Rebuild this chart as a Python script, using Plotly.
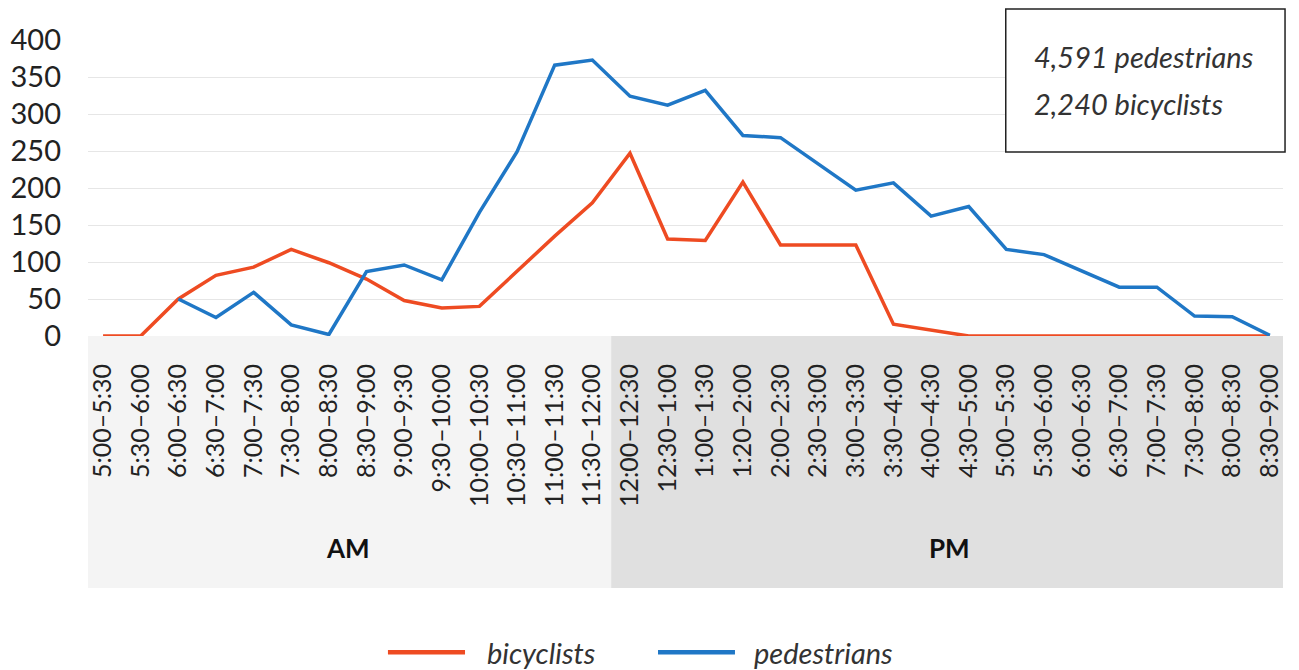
import plotly.graph_objects as go

categories = ["5:00–5:30", "5:30–6:00", "6:00–6:30", "6:30–7:00", "7:00–7:30", "7:30–8:00",
              "8:00–8:30", "8:30–9:00", "9:00–9:30", "9:30–10:00", "10:00–10:30", "10:30–11:00",
              "11:00–11:30", "11:30–12:00", "12:00–12:30", "12:30–1:00", "1:00–1:30", "1:20–2:00",
              "2:00–2:30", "2:30–3:00", "3:00–3:30", "3:30–4:00", "4:00–4:30", "4:30–5:00",
              "5:00–5:30", "5:30–6:00", "6:00–6:30", "6:30–7:00", "7:00–7:30", "7:30–8:00",
              "8:00–8:30", "8:30–9:00"]

bicyclists = [0, 0, 50, 82, 93, 117, 99, 77, 48, 38, 40, 88, 135, 180,
              247, 131, 129, 208, 123, 123, 123, 16, 8, 0, 0, 0, 0, 0, 0, 0, 0, 0]

pedestrians = [None, None, 50, 25, 59, 15, 2, 87, 96, 76, 167, 249, 366, 373,
               324, 312, 332, 271, 268, 233, 197, 207, 162, 175, 117, 110, 88, 66, 66, 27, 26, 1]

y_ticks = [0, 50, 100, 150, 200, 250, 300, 350, 400]
period_labels = ["AM", "PM"]
totals_text = ["4,591 pedestrians", "2,240 bicyclists"]
series_names = ["bicyclists", "pedestrians"]

RED = "#EE4B22"
BLUE = "#1F77C6"
x_idx = list(range(len(categories)))

fig = go.Figure()
fig.add_trace(go.Scatter(x=x_idx, y=bicyclists, mode="lines", name=series_names[0],
                         line=dict(color=RED, width=3.5), cliponaxis=False, showlegend=False))
fig.add_trace(go.Scatter(x=x_idx, y=pedestrians, mode="lines", name=series_names[1],
                         line=dict(color=BLUE, width=3.5), cliponaxis=False, showlegend=False))

# AM / PM bands under the axis
fig.add_shape(type="rect", xref="x", yref="paper", x0=-0.4, x1=13.5, y0=0, y1=-0.851,
              fillcolor="#F4F4F4", line=dict(width=0), layer="below")
fig.add_shape(type="rect", xref="x", yref="paper", x0=13.5, x1=31.35, y0=0, y1=-0.851,
              fillcolor="#E0E0E0", line=dict(width=0), layer="below")
fig.add_annotation(x=6.5, y=-0.716, xref="x", yref="paper", yanchor="middle",
                   text="<b>" + period_labels[0] + "</b>",
                   showarrow=False, font=dict(family="Lato", size=26, color="#111"))
fig.add_annotation(x=22.5, y=-0.716, xref="x", yref="paper", yanchor="middle",
                   text="<b>" + period_labels[1] + "</b>",
                   showarrow=False, font=dict(family="Lato", size=26, color="#111"))

# totals box
fig.add_shape(type="rect", xref="paper", yref="paper", x0=0.768, x1=1.0017, y0=0.6216, y1=1.1047,
              line=dict(color="#222", width=1.5), fillcolor="white", layer="above")
fig.add_annotation(x=0.790, y=0.943, xref="paper", yref="paper", xanchor="left", yanchor="middle",
                   text="<i>" + totals_text[0] + "</i>",
                   showarrow=False, font=dict(family="Lato", size=29, color="#333"))
fig.add_annotation(x=0.790, y=0.784, xref="paper", yref="paper", xanchor="left", yanchor="middle",
                   text="<i>" + totals_text[1] + "</i>",
                   showarrow=False, font=dict(family="Lato", size=29, color="#333"))

# legend (long line swatches as in the reference)
legend_y = -1.068
for (x0, x1, xt), name, col in zip([(0.2510, 0.3155, 0.3322), (0.4770, 0.5414, 0.5556)],
                                   series_names, [RED, BLUE]):
    fig.add_shape(type="line", xref="paper", yref="paper", x0=x0, x1=x1, y0=legend_y, y1=legend_y,
                  line=dict(color=col, width=4.5))
    fig.add_annotation(x=xt, y=legend_y, xref="paper", yref="paper", xanchor="left", yanchor="middle",
                       text="<i>" + name + "</i>", showarrow=False,
                       font=dict(family="Lato", size=29, color="#333"))

fig.update_layout(
    width=1291, height=662,
    margin=dict(l=80, r=16, t=32, b=334, autoexpand=False),
    paper_bgcolor="white", plot_bgcolor="white",
    showlegend=False,
    xaxis=dict(range=[-0.4, 31.35], tickmode="array", tickvals=x_idx,
               ticktext=categories, tickangle=-90,
               tickfont=dict(family="Lato", size=25, color="#222"), ticklabelstandoff=22,
               showgrid=False, zeroline=False, showline=False, ticks="", ticklen=0),
    yaxis=dict(range=[0, 400], tickvals=y_ticks, showgrid=True, gridcolor="#E6E6E6", gridwidth=1,
               zeroline=False, showline=False, ticks="",
               tickfont=dict(family="Lato", size=29, color="#222"), ticklabelstandoff=26),
)

fig.write_html("out.html")
